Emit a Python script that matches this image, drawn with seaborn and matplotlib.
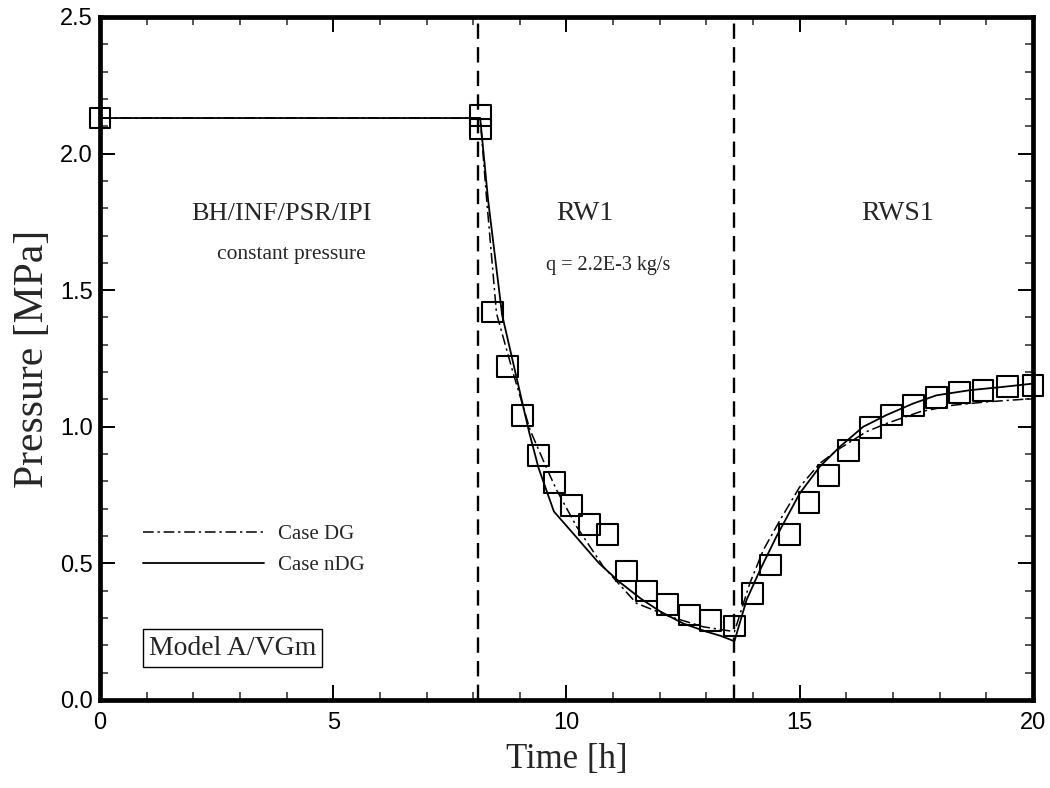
import numpy as np
import pandas as pd
import matplotlib
matplotlib.use("Agg")
import matplotlib.pyplot as plt
from matplotlib.ticker import MultipleLocator
import seaborn as sns

# ---------------- data ----------------
t_obs = [0, 8.15, 8.15, 8.42, 8.73, 9.06, 9.40, 9.75, 10.11, 10.50, 10.88, 11.29,
         11.72, 12.16, 12.63, 13.08, 13.60, 13.99, 14.38, 14.78, 15.20, 15.61,
         16.04, 16.51, 16.97, 17.43, 17.93, 18.42, 18.93, 19.45, 20.0]
p_obs = [2.13, 2.14, 2.09, 1.42, 1.22, 1.04, 0.894, 0.796, 0.713, 0.643, 0.606,
         0.472, 0.399, 0.348, 0.311, 0.292, 0.271, 0.390, 0.494, 0.607, 0.722,
         0.823, 0.912, 0.998, 1.043, 1.079, 1.107, 1.124, 1.134, 1.146, 1.152]

t_ndg = [0, 8.15, 8.32, 8.62, 8.93, 9.20, 9.40, 9.73, 10.14, 10.70, 11.15, 11.60,
         12.00, 12.50, 13.00, 13.30, 13.60, 13.86, 14.15, 14.50, 15.00, 15.43,
         15.86, 16.36, 16.86, 17.43, 17.93, 18.65, 19.36, 20.0]
p_ndg = [2.13, 2.13, 1.83, 1.41, 1.18, 0.98, 0.85, 0.69, 0.61, 0.50, 0.43, 0.37,
         0.325, 0.28, 0.25, 0.235, 0.215, 0.366, 0.476, 0.598, 0.756, 0.854,
         0.927, 1.00, 1.043, 1.085, 1.115, 1.134, 1.146, 1.158]

t_dg = [0, 8.15, 8.29, 8.50, 8.86, 9.22, 9.57, 9.79, 10.22, 10.79, 11.50, 12.22,
        12.93, 13.60, 13.93, 14.22, 14.58, 15.00, 15.43, 15.86, 16.43, 16.86,
        17.58, 18.29, 19.00, 20.0]
p_dg = [2.13, 2.13, 1.83, 1.415, 1.195, 0.988, 0.85, 0.768, 0.634, 0.488, 0.354,
        0.305, 0.268, 0.25, 0.427, 0.549, 0.659, 0.78, 0.866, 0.921, 0.982, 1.012,
        1.055, 1.079, 1.091, 1.103]

phase_bounds = [8.1, 13.6]
x_ticks = [0, 5, 10, 15, 20]
y_ticks = [0.0, 0.5, 1.0, 1.5, 2.0, 2.5]
series_labels = ["Case DG", "Case nDG"]

# ---------------- style ----------------
sns.set_style("ticks")
plt.rcParams["font.family"] = ["Liberation Sans", "DejaVu Sans"]
serif = ["Liberation Serif", "DejaVu Serif"]

fig = plt.figure(figsize=(10.5, 7.88), dpi=100)
ax = fig.add_axes([0.0952, 0.1117, 0.8886, 0.8668])
ax.set_facecolor("white")

df_dg = pd.DataFrame({"t": t_dg, "p": p_dg})
df_ndg = pd.DataFrame({"t": t_ndg, "p": p_ndg})
df_obs = pd.DataFrame({"t": t_obs, "p": p_obs})

for xb in phase_bounds:
    ax.axvline(xb, color="black", lw=1.7, ls=(0, (6.5, 3.5)), zorder=1)

sns.lineplot(data=df_dg, x="t", y="p", sort=False, estimator=None, ax=ax,
             color="black", lw=1.1, label=series_labels[0], zorder=3)
ax.lines[-1].set_dashes([7, 2.5, 1.5, 2.5])
sns.lineplot(data=df_ndg, x="t", y="p", sort=False, estimator=None, ax=ax,
             color="black", lw=1.3, label=series_labels[1], zorder=3)
sns.scatterplot(data=df_obs, x="t", y="p", ax=ax, marker="s", s=225,
                facecolor="none", edgecolor="black", linewidth=1.5, zorder=4,
                clip_on=False)

ax.set_xlim(0, 20)
ax.set_ylim(0, 2.5)
ax.set_xticks(x_ticks)
ax.set_yticks(y_ticks)
ax.set_xticklabels([str(v) for v in x_ticks])
ax.set_yticklabels([f"{v:.1f}" for v in y_ticks])
ax.xaxis.set_minor_locator(MultipleLocator(1))
ax.yaxis.set_minor_locator(MultipleLocator(0.1))
ax.tick_params(which="major", direction="in", length=11, width=1.4,
               top=True, right=True, labelsize=17, colors="black")
ax.tick_params(axis="x", which="major", pad=9)
ax.tick_params(axis="y", which="major", pad=5)
ax.tick_params(which="minor", direction="in", length=6, width=1.1,
               top=True, right=True)
for sp in ax.spines.values():
    sp.set_linewidth(3.4)
    sp.set_color("black")

ax.set_xlabel("Time [h]", fontsize=25, family=serif, labelpad=6)
ax.set_ylabel("Pressure [MPa]", fontsize=30, family=serif, labelpad=6)

# annotations
ax.text(3.9, 1.78, "BH/INF/PSR/IPI", fontsize=19, family=serif, ha="center", va="center")
ax.text(4.1, 1.63, "constant pressure", fontsize=15.5, family=serif, ha="center", va="center")
ax.text(10.4, 1.78, "RW1", fontsize=20, family=serif, ha="center", va="center")
ax.text(10.9, 1.59, "q = 2.2E-3 kg/s", fontsize=14.5, family=serif, ha="center", va="center")
ax.text(17.1, 1.78, "RWS1", fontsize=20, family=serif, ha="center", va="center")

leg = ax.legend(loc="center left", bbox_to_anchor=(0.92, 0.55),
                bbox_transform=ax.transData, frameon=False,
                handlelength=5.8, handletextpad=0.7, labelspacing=0.55,
                borderpad=0, borderaxespad=0, prop={"family": serif, "size": 15})

ax.text(1.05, 0.19, "Model A/VGm", fontsize=20, family=serif, ha="left", va="center",
        bbox=dict(boxstyle="square,pad=0.22", fc="white", ec="black", lw=1.0))

fig.savefig("out.png", dpi=100, facecolor="white")
